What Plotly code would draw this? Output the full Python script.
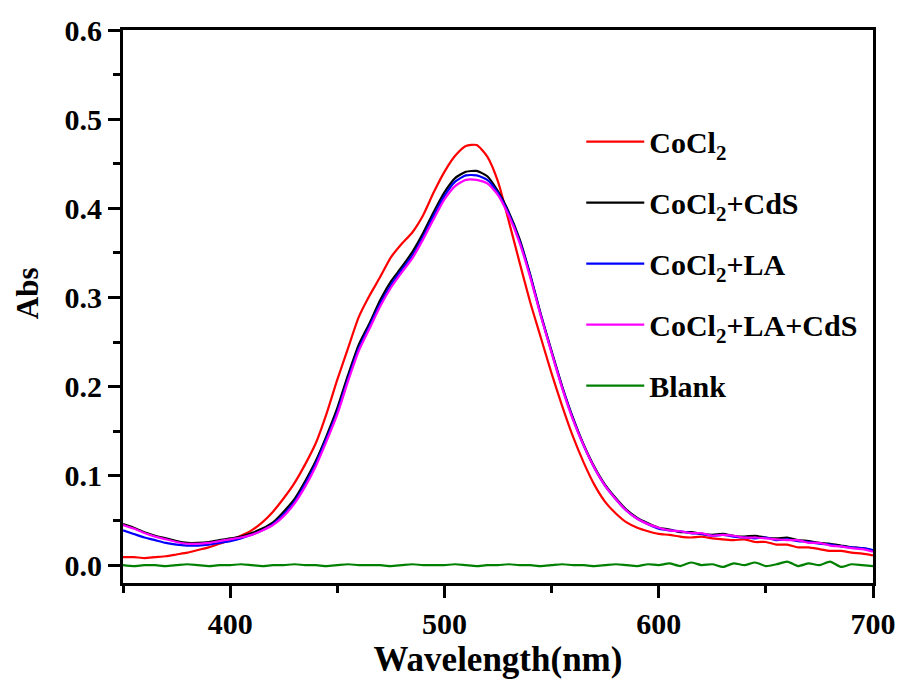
import plotly.graph_objects as go

wavelength = list(range(350, 705, 5))

cocl2 = [0.009, 0.009, 0.008, 0.009, 0.010, 0.012, 0.014, 0.017, 0.020, 0.024,
         0.028, 0.033, 0.039, 0.048, 0.060, 0.075, 0.092, 0.113, 0.137, 0.170,
         0.208, 0.243, 0.278, 0.302, 0.323, 0.345, 0.360, 0.373, 0.392, 0.418,
         0.441, 0.459, 0.470, 0.471, 0.458, 0.430, 0.386, 0.340, 0.295, 0.255,
         0.215, 0.178, 0.144, 0.115, 0.090, 0.071, 0.058, 0.048, 0.042, 0.038,
         0.035, 0.034, 0.032, 0.031, 0.032, 0.030, 0.029, 0.028, 0.029, 0.026,
         0.026, 0.023, 0.023, 0.020, 0.020, 0.018, 0.016, 0.016, 0.014, 0.013,
         0.011]

cocl2_cds = [0.046, 0.042, 0.037, 0.033, 0.030, 0.027, 0.025, 0.025, 0.026, 0.028,
             0.030, 0.032, 0.036, 0.041, 0.048, 0.060, 0.074, 0.094, 0.117, 0.145,
             0.176, 0.213, 0.247, 0.271, 0.297, 0.318, 0.334, 0.351, 0.372, 0.396,
             0.418, 0.434, 0.441, 0.442, 0.436, 0.419, 0.396, 0.366, 0.326, 0.281,
             0.240, 0.200, 0.165, 0.135, 0.110, 0.090, 0.075, 0.062, 0.053, 0.047,
             0.042, 0.040, 0.037, 0.037, 0.035, 0.034, 0.035, 0.033, 0.032, 0.033,
             0.031, 0.030, 0.031, 0.028, 0.027, 0.025, 0.024, 0.022, 0.020, 0.019,
             0.016]

cocl2_la = [0.039, 0.035, 0.031, 0.028, 0.025, 0.023, 0.022, 0.022, 0.023, 0.025,
            0.027, 0.030, 0.034, 0.039, 0.046, 0.057, 0.071, 0.091, 0.114, 0.142,
            0.172, 0.209, 0.243, 0.268, 0.293, 0.314, 0.331, 0.347, 0.368, 0.392,
            0.414, 0.430, 0.437, 0.437, 0.432, 0.417, 0.394, 0.364, 0.325, 0.280,
            0.239, 0.199, 0.164, 0.134, 0.109, 0.089, 0.074, 0.061, 0.052, 0.046,
            0.041, 0.039, 0.038, 0.036, 0.035, 0.033, 0.034, 0.032, 0.031, 0.030,
            0.031, 0.028, 0.029, 0.027, 0.026, 0.024, 0.023, 0.021, 0.020, 0.019,
            0.017]

cocl2_la_cds = [0.045, 0.041, 0.036, 0.032, 0.029, 0.026, 0.024, 0.024, 0.025, 0.027,
                0.029, 0.031, 0.034, 0.039, 0.045, 0.055, 0.069, 0.088, 0.111, 0.139,
                0.169, 0.206, 0.240, 0.265, 0.290, 0.311, 0.328, 0.344, 0.365, 0.388,
                0.410, 0.425, 0.432, 0.432, 0.428, 0.415, 0.392, 0.362, 0.323, 0.279,
                0.238, 0.198, 0.163, 0.134, 0.109, 0.089, 0.074, 0.061, 0.052, 0.046,
                0.042, 0.039, 0.038, 0.036, 0.036, 0.033, 0.034, 0.033, 0.031, 0.031,
                0.030, 0.029, 0.028, 0.028, 0.025, 0.025, 0.022, 0.021, 0.019, 0.018,
                0.015]

blank = [0.000, -0.001, 0.000, 0.000, -0.001, 0.000, 0.001, 0.000, -0.001, 0.000,
         0.000, 0.001, 0.000, -0.001, 0.000, 0.000, 0.001, 0.000, 0.000, -0.001,
         0.000, 0.001, 0.000, 0.000, 0.000, -0.001, 0.000, 0.001, 0.000, 0.000,
         0.000, 0.001, 0.000, -0.001, 0.000, 0.000, 0.001, 0.000, 0.000, -0.001,
         0.000, 0.001, 0.000, 0.000, -0.001, 0.000, 0.001, 0.000, -0.001, 0.001,
         0.000, 0.002, -0.001, 0.003, 0.000, 0.001, -0.002, 0.002, 0.000, 0.003,
         -0.001, 0.001, 0.004, -0.001, 0.002, 0.000, 0.004, -0.002, 0.001, 0.000,
         -0.001]

series = [
    ("CoCl<sub>2</sub>", cocl2, "#ff0000"),
    ("CoCl<sub>2</sub>+CdS", cocl2_cds, "#000000"),
    ("CoCl<sub>2</sub>+LA", cocl2_la, "#0000ff"),
    ("CoCl<sub>2</sub>+LA+CdS", cocl2_la_cds, "#ff00ff"),
    ("Blank", blank, "#008000"),
]

FONT = "Liberation Serif"

fig = go.Figure()
for i, (name, vals, color) in enumerate(series):
    fig.add_trace(go.Scatter(x=wavelength, y=vals, mode="lines", name=name,
                             legendgroup=f"g{i}",
                             line=dict(color=color, width=2.2, shape="spline", smoothing=0.6)))

axis_common = dict(showline=True, linewidth=3, linecolor="black", mirror=True,
                   showgrid=False, zeroline=False, ticks="outside", ticklen=12,
                   tickwidth=3, tickcolor="black", automargin=False,
                   tickfont=dict(family=FONT, size=30, color="black", weight="bold"))

fig.update_xaxes(range=[350, 700], dtick=100, tick0=400,
                 minor=dict(dtick=50, ticks="outside", ticklen=7, tickwidth=3, tickcolor="black"),
                 title=dict(text="<b>Wavelength(nm)</b>", font=dict(family=FONT, size=35, color="black"), standoff=6),
                 **axis_common)
fig.update_yaxes(range=[-0.02, 0.6], dtick=0.1, tick0=0, tickformat=".1f",
                 minor=dict(dtick=0.05, ticks="outside", ticklen=7, tickwidth=3, tickcolor="black"),
                 **axis_common)

fig.add_annotation(text="<b>Abs</b>", textangle=-90, xref="paper", yref="paper",
                   x=-0.128, y=0.524, xanchor="center", yanchor="middle", showarrow=False,
                   font=dict(family=FONT, size=31, color="black"))

fig.update_layout(
    width=904, height=682,
    margin=dict(l=115, r=39, t=22, b=107),
    plot_bgcolor="white", paper_bgcolor="white",
    legend=dict(x=0.611, y=0.845, xanchor="left", yanchor="top",
                font=dict(family=FONT, size=30, color="black", weight="bold"),
                tracegroupgap=19, bgcolor="rgba(0,0,0,0)", itemwidth=58),
)

fig.write_html("out.html")
